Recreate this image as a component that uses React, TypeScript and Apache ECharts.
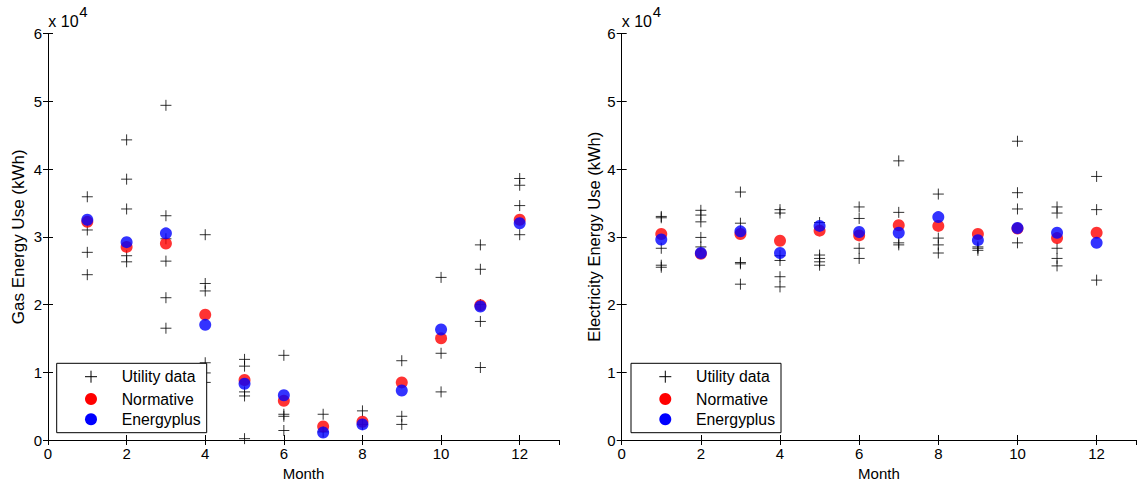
import React, { useEffect, useRef } from "react";
import * as echarts from "echarts";

const months = [1, 2, 3, 4, 5, 6, 7, 8, 9, 10, 11, 12];
const xTicks = [0, 2, 4, 6, 8, 10, 12];
const yTickLabels = ["0", "1", "2", "3", "4", "5", "6"];

// Gas (kWh) – utility bills per month (several years)
const gasUtility: number[][] = [
  [35900, 31000, 27700, 24400],
  [44300, 38500, 34100, 27200, 26300],
  [49400, 33100, 29700, 26400, 21000, 16500],
  [30300, 23100, 22000, 11400, 9900, 8500],
  [11900, 10900, 7100, 6500, 200],
  [12500, 3800, 3500, 1400],
  [3800, 1200],
  [4300, 2300],
  [11700, 3500, 2300],
  [24000, 12800, 7100],
  [28800, 25200, 20000, 17500, 10700],
  [38600, 37600, 34600, 30300],
];
const gasNormative = [32200, 28500, 29000, 18500, 8860, 5800, 2000, 2700, 8500, 15000, 19900, 32500];
const gasEnergyplus = [32500, 29200, 30500, 17000, 8300, 6600, 1100, 2300, 7300, 16300, 19700, 32000];

// Electricity (kWh)
const elecUtility: number[][] = [
  [33000, 32800, 28300, 25800, 25500],
  [33900, 33200, 32200, 29900, 28500],
  [36600, 32000, 26200, 26000, 23000],
  [34000, 33500, 27200, 26500, 24100, 22600],
  [32100, 27300, 26800, 26300, 25800],
  [34400, 32700, 28300, 26800],
  [41200, 33600, 29100, 28800],
  [36300, 29800, 28800, 27600],
  [28500, 28300, 28000],
  [44100, 36500, 34100, 29100],
  [34400, 33500, 28300, 26800, 25700],
  [38900, 34000, 23600],
];
const elecNormative = [30400, 27500, 30400, 29400, 30900, 30200, 31700, 31600, 30400, 31200, 29800, 30600];
const elecEnergyplus = [29600, 27600, 30800, 27600, 31600, 30700, 30600, 32900, 29500, 31300, 30600, 29100];

const seriesNames = ["Utility data", "Normative", "Energyplus"];
const yTitles = ["Gas Energy Use (kWh)", "Electricity Energy Use (kWh)"];
const xTitle = "Month";

const FONT = "'Liberation Sans', Arial, Helvetica, sans-serif";
const AXIS_COLOR = "#000";
const CROSS = "path://M0,6L12,6M6,0L6,12";

function flatten(u: number[][]) {
  const out: number[][] = [];
  u.forEach((vals, i) => vals.forEach((v) => out.push([months[i], v])));
  return out;
}
function pair(vals: number[]) {
  return vals.map((v, i) => [months[i], v]);
}

function axesFor(idx: number) {
  const common = {
    gridIndex: idx,
    type: "value" as const,
    axisLine: { show: true, lineStyle: { color: AXIS_COLOR, width: 1 } },
    axisTick: { show: true, inside: true, length: 5, lineStyle: { color: AXIS_COLOR } },
    splitLine: { show: false },
  };
  const xA = [
    {
      ...common,
      position: "bottom",
      min: 0,
      max: 13,
      interval: 2,
      name: xTitle,
      nameLocation: "middle",
      nameGap: 21,
      nameTextStyle: { color: "#000", fontSize: 15, fontFamily: FONT },
      axisLabel: {
        color: "#000",
        fontSize: 15,
        fontFamily: FONT,
        margin: 6,
        showMaxLabel: false,
        formatter: (v: number) => (xTicks.indexOf(v) >= 0 ? String(v) : ""),
      },
    },
    {
      ...common,
      position: "top",
      min: 0,
      max: 13,
      interval: 2,
      axisLabel: { show: false },
    },
  ];
  const yA = [
    {
      ...common,
      position: "left",
      min: 0,
      max: 60000,
      interval: 10000,
      name: yTitles[idx],
      nameLocation: "middle",
      nameGap: idx === 0 ? 21 : 19,
      nameTextStyle: { color: "#000", fontSize: idx === 0 ? 17 : 16.5, fontFamily: FONT },
      axisLabel: {
        color: "#000",
        fontSize: 15,
        fontFamily: FONT,
        margin: 6,
        formatter: (v: number) => yTickLabels[Math.round(v / 10000)] ?? "",
      },
    },
    {
      ...common,
      position: "right",
      min: 0,
      max: 60000,
      interval: 10000,
      axisLabel: { show: false },
    },
  ];
  return { xA, yA };
}

function legendGraphic(x0: number, y0: number) {
  const sx = x0 + 34.3;
  const tx = x0 + 65;
  const rows = [y0 + 13.4, y0 + 35.7, y0 + 56];
  const txt = (y: number, s: string) => ({
    type: "text",
    z: 101,
    style: {
      x: tx,
      y,
      text: s,
      fill: "#000",
      font: `15.8px ${FONT}`,
      textAlign: "left",
      textVerticalAlign: "middle",
    },
  });
  return [
    {
      type: "rect",
      z: 100,
      shape: { x: x0, y: y0, width: 150, height: 69.4 },
      style: { fill: "#fff", stroke: "#000", lineWidth: 1 },
    },
    {
      type: "line",
      z: 101,
      shape: { x1: sx - 6, y1: rows[0], x2: sx + 6, y2: rows[0] },
      style: { stroke: "#000", lineWidth: 1 },
    },
    {
      type: "line",
      z: 101,
      shape: { x1: sx, y1: rows[0] - 6, x2: sx, y2: rows[0] + 6 },
      style: { stroke: "#000", lineWidth: 1 },
    },
    { type: "circle", z: 101, shape: { cx: sx, cy: rows[1], r: 6 }, style: { fill: "#ff0000" } },
    { type: "circle", z: 101, shape: { cx: sx, cy: rows[2], r: 6 }, style: { fill: "#0000ff" } },
    txt(rows[0], seriesNames[0]),
    txt(rows[1], seriesNames[1]),
    txt(rows[2], seriesNames[2]),
  ];
}

function exponentGraphic(x0: number) {
  return [
    {
      type: "text",
      style: { x: x0, y: 21, text: "x 10", fill: "#000", font: `16px ${FONT}`, textVerticalAlign: "middle" },
    },
    {
      type: "text",
      style: { x: x0 + 31, y: 11, text: "4", fill: "#000", font: `15px ${FONT}`, textVerticalAlign: "middle" },
    },
  ];
}

export default function App() {
  const ref = useRef<HTMLDivElement>(null);
  useEffect(() => {
    if (!ref.current) return;
    const chart = echarts.init(ref.current, null, { renderer: "svg" });
    const a0 = axesFor(0);
    const a1 = axesFor(1);
    const mk = (grid: number, name: string, data: number[][], kind: number) => {
      const base: any = {
        type: "scatter",
        name,
        xAxisIndex: grid * 2,
        yAxisIndex: grid * 2,
        data,
        z: 2 + kind,
      };
      if (kind === 0) {
        base.symbol = CROSS;
        base.symbolSize = 11;
        base.itemStyle = { color: "rgba(0,0,0,0)", borderColor: "#000", borderWidth: 1 };
      } else {
        base.symbol = "circle";
        base.symbolSize = 12;
        base.itemStyle = { color: kind === 1 ? "#ff0000" : "#0000ff" };
      }
      return base;
    };
    chart.setOption({
      animation: false,
      backgroundColor: "#fff",
      grid: [
        { left: 48, top: 33.5, width: 511, height: 406.5 },
        { left: 621.7, top: 33.5, width: 514.5, height: 406.5 },
      ],
      xAxis: [...a0.xA, ...a1.xA],
      yAxis: [...a0.yA, ...a1.yA],
      series: [
        mk(0, seriesNames[0], flatten(gasUtility), 0),
        mk(0, seriesNames[1], pair(gasNormative), 1),
        mk(0, seriesNames[2], pair(gasEnergyplus), 2),
        mk(1, seriesNames[0], flatten(elecUtility), 0),
        mk(1, seriesNames[1], pair(elecNormative), 1),
        mk(1, seriesNames[2], pair(elecEnergyplus), 2),
      ],
      graphic: [
        ...exponentGraphic(48.3),
        ...exponentGraphic(621.7),
        ...legendGraphic(56.7, 363.3),
        ...legendGraphic(631, 363.3),
      ],
    });
    return () => chart.dispose();
  }, []);
  return (
    <div
      ref={ref}
      style={{ position: "fixed", left: 0, top: 0, width: 1138, height: 486 }}
    />
  );
}
